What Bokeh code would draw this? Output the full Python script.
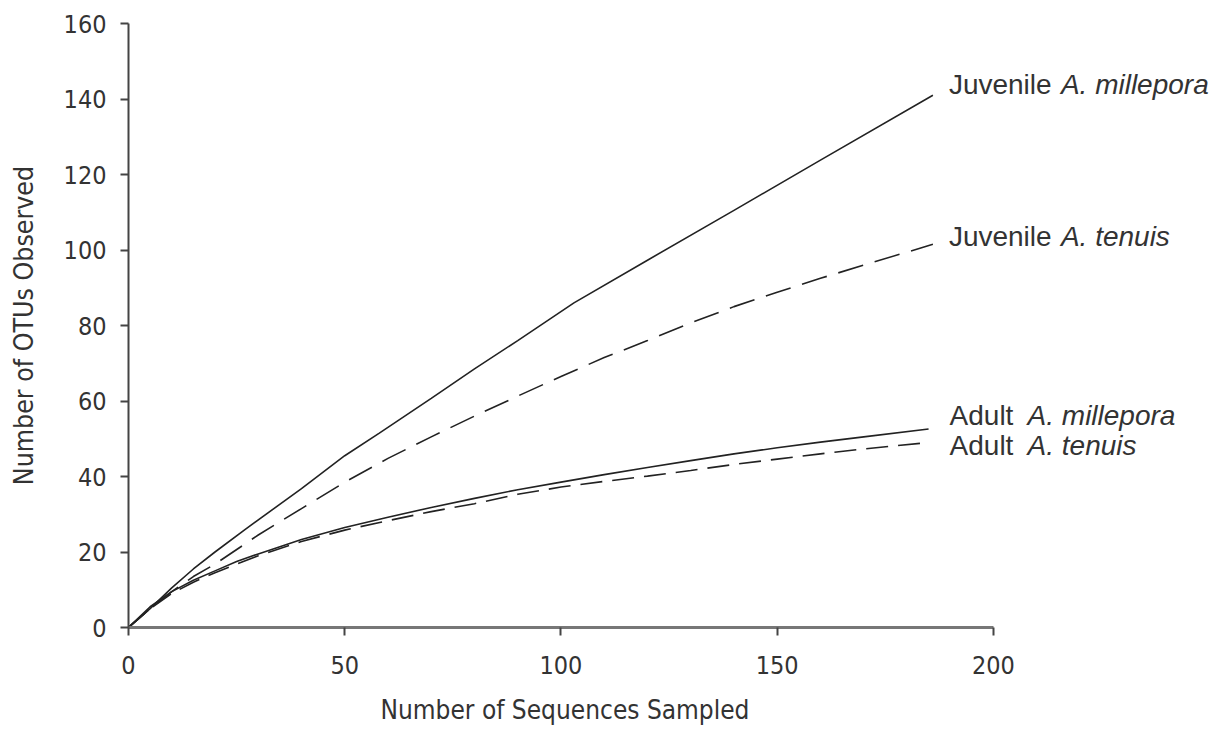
from bokeh.plotting import figure
from bokeh.models import Range1d, FixedTicker, Label, Title
from bokeh.embed import file_html
from bokeh.resources import INLINE

# ---- data ----
juv_mil_x = [0, 5, 10, 15, 20, 27, 40, 50, 58, 70, 80, 90, 103, 120, 140, 160, 186]
juv_mil_y = [0, 5, 10.5, 15.5, 20, 26, 36.8, 45.5, 51.5, 60.7, 68.5, 76, 86, 97.3, 110.5, 123.8, 141]

juv_ten_x = [0, 5, 10, 15, 20, 30, 40, 50, 60, 70, 80, 90, 100, 110, 120, 130, 140, 150, 160, 170, 186]
juv_ten_y = [0, 5, 9.5, 13.5, 16.8, 24.5, 31.5, 38.5, 44.8, 50.5, 56, 61.3, 66.5, 71.5, 76, 80.7, 85, 88.8, 92.5, 96, 101.5]

ad_mil_x = [0, 5, 10, 15, 20, 25, 30, 40, 50, 60, 70, 80, 90, 100, 110, 120, 130, 140, 150, 160, 170, 185]
ad_mil_y = [0, 5.5, 9.5, 12.5, 15, 17.5, 19.5, 23.3, 26.5, 29.2, 31.8, 34.2, 36.5, 38.5, 40.5, 42.4, 44.2, 46, 47.6, 49.1, 50.5, 52.6]

ad_ten_x = [0, 5, 10, 15, 20, 25, 30, 40, 50, 60, 70, 80, 90, 100, 110, 120, 130, 140, 150, 160, 170, 185]
ad_ten_y = [0, 5, 9, 12, 14.5, 16.8, 19, 22.8, 25.8, 28.3, 30.7, 32.8, 35.3, 37.2, 38.7, 40.1, 41.6, 43.2, 44.6, 46, 47.3, 49]

label_first = ["Juvenile", "Juvenile", "Adult", "Adult"]
label_species = ["A. millepora", "A. tenuis", "A. millepora", "A. tenuis"]

x_ticks = [0, 50, 100, 150, 200]
y_ticks = [0, 20, 40, 60, 80, 100, 120, 140, 160]

NARROW = "DejaVu Sans Condensed"
SANS = "Liberation Sans"
INK = "#222222"

p = figure(width=1227, height=740, output_backend="svg", toolbar_location=None,
           x_range=Range1d(0, 252.5), y_range=Range1d(0, 160),
           min_border_left=128, min_border_right=7, min_border_top=23, min_border_bottom=112)
p.outline_line_color = None
p.grid.visible = False
p.background_fill_color = "white"
p.border_fill_color = "white"

# axes
p.xaxis.bounds = (0, 200)
p.xaxis.ticker = FixedTicker(ticks=x_ticks)
p.yaxis.ticker = FixedTicker(ticks=y_ticks)
p.xaxis.minor_tick_line_color = None
p.yaxis.minor_tick_line_color = None
p.xaxis.axis_line_color = "#777777"
p.xaxis.axis_line_width = 3
p.yaxis.axis_line_color = "#444444"
p.yaxis.axis_line_width = 2
p.xaxis.major_tick_line_color = "#444444"
p.yaxis.major_tick_line_color = "#444444"
p.xaxis.major_tick_line_width = 2
p.yaxis.major_tick_line_width = 2
p.axis.major_tick_out = 8
p.axis.major_tick_in = 0
p.axis.major_label_text_font = NARROW
p.axis.major_label_text_font_size = "25px"
p.axis.major_label_text_color = "#333333"
p.xaxis.major_label_standoff = 20
p.yaxis.major_label_standoff = 14
p.yaxis.axis_label = "Number of OTUs Observed"
p.yaxis.axis_label_text_font = NARROW
p.yaxis.axis_label_text_font_size = "26.5px"
p.yaxis.axis_label_text_font_style = "normal"
p.yaxis.axis_label_text_color = "#333333"
p.yaxis.axis_label_standoff = 22

# x-axis title, placed under the 0-200 axis (frame extends right for the end labels)
p.add_layout(Title(text="Number of Sequences Sampled", align="left", offset=252,
                   text_font=NARROW, text_font_size="26px", text_font_style="normal",
                   text_color="#333333", standoff=32), "below")

# curves
p.line(juv_mil_x, juv_mil_y, line_color=INK, line_width=1.6)
p.line(juv_ten_x, juv_ten_y, line_color=INK, line_width=1.6, line_dash="26 12")
p.line(ad_mil_x, ad_mil_y, line_color=INK, line_width=1.6)
p.line(ad_ten_x, ad_ten_y, line_color=INK, line_width=1.6, line_dash="22 10")

# end labels
ends = [(juv_mil_x[-1], juv_mil_y[-1]), (juv_ten_x[-1], juv_ten_y[-1]),
        (ad_mil_x[-1], ad_mil_y[-1]), (ad_ten_x[-1], ad_ten_y[-1])]
dx = [16, 16, 21, 21]
dy = [11, 8, 13, -3]
sp = [112, 112, 78, 78]
for (ex, ey), a, b, ox, oy, s in zip(ends, label_first, label_species, dx, dy, sp):
    p.add_layout(Label(x=ex, y=ey, x_offset=ox, y_offset=oy, text=a,
                       text_font=SANS, text_font_size="28px", text_color="#333333",
                       text_baseline="middle", text_align="left"))
    p.add_layout(Label(x=ex, y=ey, x_offset=ox + s, y_offset=oy, text=b,
                       text_font=SANS, text_font_size="28px", text_font_style="italic",
                       text_color="#333333", text_baseline="middle", text_align="left"))

open("out.html", "w").write(file_html(p, INLINE))
